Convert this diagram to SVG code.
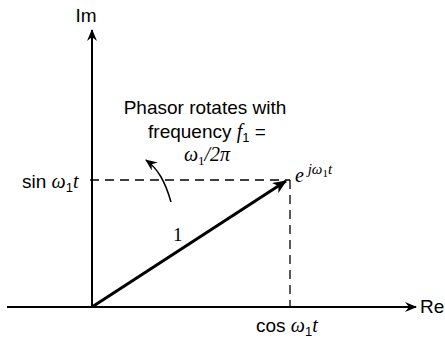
<svg xmlns="http://www.w3.org/2000/svg" width="445" height="339" viewBox="0 0 445 339">
<style>
.ax{stroke:#000;stroke-width:2;fill:none}
.dash{stroke:#000;stroke-width:1.3;fill:none;stroke-dasharray:9,6}
.t{font-family:"Liberation Sans",Arial,sans-serif;font-size:19px;fill:#000}
.m{font-family:"Liberation Serif","Times New Roman",serif;font-style:italic;font-size:20px;fill:#000}
</style>
<defs>
<marker id="ah" viewBox="0 0 12 10" refX="11" refY="5" markerWidth="12" markerHeight="10" markerUnits="userSpaceOnUse" orient="auto">
<path d="M0,0 L12,5 L0,10 L4,5 Z" fill="#000"/>
</marker>
<marker id="ah2" viewBox="0 0 14 12" refX="13" refY="6" markerWidth="14" markerHeight="12" markerUnits="userSpaceOnUse" orient="auto">
<path d="M0,0 L14,6 L0,12 L4,6 Z" fill="#000"/>
</marker>
</defs>
<g id="connectors">
<line class="ax" x1="7" y1="307" x2="416" y2="307" marker-end="url(#ah)"/>
<line class="ax" x1="92" y1="308" x2="92" y2="30" marker-end="url(#ah)"/>
<line class="dash" x1="90" y1="180" x2="290" y2="180"/>
<line class="dash" x1="290" y1="180" x2="290" y2="307"/>
<line x1="92" y1="307" x2="286" y2="181" stroke="#000" stroke-width="3" marker-end="url(#ah2)"/>
<path d="M171,202 C165,181 158,169 146,160" stroke="#000" stroke-width="1.5" fill="none" marker-end="url(#ah)"/>
</g>
<g id="labels">
<text class="t" x="86" y="22" text-anchor="middle">Im</text>
<text class="t" x="420" y="313">Re</text>
<text class="t" x="205" y="114" text-anchor="middle">Phasor rotates with</text>
<text class="t" x="207" y="138" text-anchor="middle">frequency <tspan class="m">f</tspan><tspan font-size="13" dy="4">1</tspan><tspan dy="-4"> =</tspan></text>
<text class="m" x="207" y="161" text-anchor="middle">ω<tspan font-style="normal" font-size="13" dy="4">1</tspan><tspan dy="-4">/2π</tspan></text>
<text class="t" x="22" y="188">sin <tspan class="m">ω</tspan><tspan font-size="13" dy="4">1</tspan><tspan class="m" dy="-4">t</tspan></text>
<text class="t" x="256" y="332">cos <tspan class="m">ω</tspan><tspan font-size="13" dy="4">1</tspan><tspan class="m" dy="-4">t</tspan></text>
<text class="m" x="295" y="182">e<tspan font-size="15" dy="-8"> jω</tspan><tspan font-style="normal" font-size="11" dy="3">1</tspan><tspan font-size="15" dy="-3">t</tspan></text>
<text font-family="Liberation Serif,serif" font-size="19" x="173" y="241">1</text>
</g>
</svg>
